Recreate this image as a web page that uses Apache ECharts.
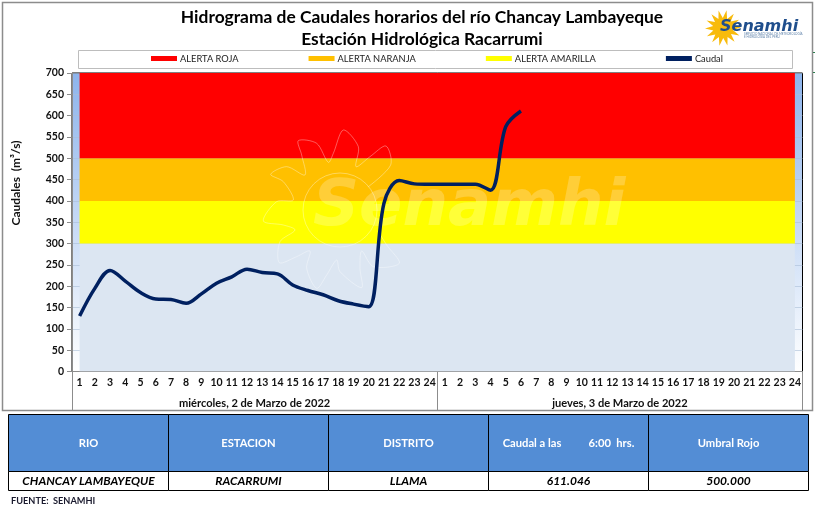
<!DOCTYPE html>
<html>
<head>
<meta charset="utf-8">
<title>Hidrograma</title>
<script src="https://cdn.jsdelivr.net/npm/echarts@6/dist/echarts.min.js"></script>
<style>
html,body{margin:0;padding:0;background:#fff}
#chart{width:815px;height:508px}
</style>
</head>
<body>
<div id="chart"></div>
<script>
// horas de cada dia
var hours = ['1','2','3','4','5','6','7','8','9','10','11','12','13','14','15','16','17','18','19','20','21','22','23','24'];
var categories = hours.concat(hours);
var days = ['miércoles, 2 de Marzo de 2022', 'jueves, 3 de Marzo de 2022'];

// caudal horario, termina a las 6:00 del segundo dia
var caudal = [130,195,237,212,185,170,169,160,182,207,222,240,232,229,203,190,180,166,158,152,395,448,440,439,
              439,439,439,425,574,611];

// bandas apiladas (base, amarilla, naranja, roja)
var bandaBase = [300,300,300,300,300,300,300,300,300,300,300,300,300,300,300,300,300,300,300,300,300,300,300,300,300,300,300,300,300,300,300,300,300,300,300,300,300,300,300,300,300,300,300,300,300,300,300,300];
var bandaAmarilla = bandaBase.map(function(){ return 100; });
var bandaNaranja = bandaBase.map(function(){ return 100; });
var bandaRoja = bandaBase.map(function(){ return 200; });

var yTicks = {min: 0, max: 700, interval: 50};

var tableHead = ['RIO', 'ESTACION', 'DISTRITO', 'Caudal a las          6:00  hrs.', 'Umbral Rojo'];
var tableRow = ['CHANCAY LAMBAYEQUE', 'RACARRUMI', 'LLAMA', '611.046', '500.000'];
var tableX = [8.5, 168.5, 328.5, 488.5, 648.5, 808.5];

var FONT = 'Lato, "Open Sans", sans-serif';
var LOGO_FONT = '"DejaVu Sans", sans-serif';

function bandSeries(name, data, color){
    return {
        name: name,
        type: 'line',
        stack: 'umbral',
        data: data,
        symbol: 'none',
        lineStyle: {width: 0},
        itemStyle: {color: color},
        areaStyle: {color: color, opacity: 1},
        z: 2,
        silent: true
    };
}

// sol del logo, una estrella de puntas
function sunPoints(cx, cy, r1, r2, n){
    var pts = [];
    for(var i = 0; i < n * 2; i++){
        var r = i % 2 ? r2 : r1;
        var a = i * Math.PI / n - Math.PI / 2 + 0.2;
        pts.push([cx + r * Math.cos(a), cy + r * Math.sin(a)]);
    }
    return pts;
}

// contorno de las llamas de la marca de agua
var flameLeft = [[325,185],[392,120],[378,63],[330,95],[288,125],[295,65],[250,15],[220,85],[205,112],[170,55],[115,47],[125,90],[135,150],
    [80,125],[32,148],[70,170],[100,225],[50,230],[10,288],[70,300],[105,315],[60,350],[58,413],[110,395],[150,378],[140,430],[170,490],[200,450],[230,405],[240,440],[305,488],[300,430],[305,378],[340,425],[418,415],[380,360],[355,320]];
var flamePts = flameLeft.map(function(p){ return [260 + p[0] / 3, 125 + p[1] / 3]; });

var watermarkStroke = 'rgba(255,255,255,0.35)';

var graphics = [
    // marco exterior
    {type: 'rect', silent: true, z: 0, shape: {x: 2.5, y: 2.5, width: 810, height: 408}, style: {fill: null, stroke: '#8c8c8c', lineWidth: 1.5}},
    {type: 'line', silent: true, z: 0, shape: {x1: 813, y1: 52.5, x2: 815, y2: 52.5}, style: {stroke: '#2e7d4f', lineWidth: 1}},
    {type: 'line', silent: true, z: 0, shape: {x1: 813, y1: 72.5, x2: 815, y2: 72.5}, style: {stroke: '#2e7d4f', lineWidth: 1}},
    // caja de la leyenda
    {type: 'rect', silent: true, z: 0, shape: {x: 78.5, y: 50.5, width: 714, height: 18}, style: {fill: '#fff', stroke: '#bdbdbd', lineWidth: 1}},
    // marca de agua
    {type: 'circle', silent: true, z: 5, shape: {cx: 340, cy: 210, r: 37}, style: {fill: null, stroke: watermarkStroke, lineWidth: 1}},
    {type: 'polyline', silent: true, z: 5, shape: {points: flamePts, smooth: 0.3}, style: {fill: null, stroke: watermarkStroke, lineWidth: 1}},
    {type: 'text', silent: true, z: 5, x: 313, y: 208, style: {text: 'Senamhi', verticalAlign: 'middle', fontFamily: LOGO_FONT, fontWeight: 'bold', fontStyle: 'italic', fontSize: 64, fill: 'rgba(255,255,255,0.22)'}},
    // logo
    {type: 'polygon', silent: true, z: 5, shape: {points: sunPoints(723, 28, 18, 10, 14)}, style: {fill: '#f8bb0c'}},
    {type: 'text', silent: true, z: 6, x: 720, y: 26.5, style: {text: 'Senamhi', verticalAlign: 'middle', fontFamily: LOGO_FONT, fontWeight: 'bold', fontStyle: 'italic', fontSize: 16, fill: '#1f4e8c'}},
    {type: 'text', silent: true, z: 6, x: 744, y: 33, style: {text: 'SERVICIO NACIONAL DE METEOROLOGÍA\nE HIDROLOGÍA DEL PERÚ', fontFamily: FONT, fontSize: 3, lineHeight: 3, fill: '#5b7fa8'}},
    // titulo del eje y
    {type: 'text', silent: true, x: 16, y: 183, rotation: Math.PI / 2, style: {text: 'Caudales  (m³/s)', align: 'center', verticalAlign: 'middle', fontFamily: FONT, fontWeight: 'bold', fontSize: 12, fill: '#111'}},
    // fuente
    {type: 'text', silent: true, x: 11, y: 497, style: {text: 'FUENTE:  SENAMHI', fontFamily: FONT, fontWeight: 'bold', fontSize: 9.2, fill: '#1a1a2e'}}
];

// tabla inferior
tableHead.forEach(function(h, i){
    var x = tableX[i], w = tableX[i + 1] - x;
    graphics.push({type: 'rect', silent: true, shape: {x: x, y: 414.5, width: w, height: 57}, style: {fill: '#538dd5', stroke: '#000', lineWidth: 1}});
    graphics.push({type: 'text', silent: true, z: 3, x: x + w / 2, y: 443, style: {text: h, align: 'center', verticalAlign: 'middle', fontFamily: FONT, fontWeight: 'bold', fontSize: 11.2, fill: '#fff'}});
    graphics.push({type: 'rect', silent: true, shape: {x: x, y: 471.5, width: w, height: 19}, style: {fill: '#fff', stroke: '#000', lineWidth: 1}});
    graphics.push({type: 'text', silent: true, z: 3, x: x + w / 2, y: 481, style: {text: tableRow[i], align: 'center', verticalAlign: 'middle', fontFamily: FONT, fontWeight: 'bold', fontStyle: 'italic', fontSize: 12, fill: '#000'}});
});

var option = {
    backgroundColor: '#fff',
    animation: false,
    title: {
        text: 'Hidrograma de Caudales horarios del río Chancay Lambayeque\nEstación Hidrológica Racarrumi',
        left: 417,
        top: 1,
        textAlign: 'center',
        textStyle: {fontFamily: FONT, fontWeight: 'bold', fontSize: 17.4, lineHeight: 22, color: '#000'}
    },
    legend: {
        left: 151,
        top: 54,
        padding: 0,
        itemWidth: 26,
        itemHeight: 5,
        itemGap: 70,
        icon: 'rect',
        textStyle: {fontFamily: FONT, fontSize: 9.3, color: '#222', padding: [0, 0, 0, -2]},
        data: ['ALERTA ROJA', 'ALERTA NARANJA', 'ALERTA AMARILLA', 'Caudal']
    },
    grid: {
        left: 72,
        right: 12.5,
        top: 73,
        height: 298.5,
        show: true,
        borderColor: '#000',
        borderWidth: 1,
        backgroundColor: new echarts.graphic.LinearGradient(0, 0, 0, 1, [
            {offset: 0, color: '#8db4ec'},
            {offset: 1, color: '#ffffff'}
        ])
    },
    xAxis: [
        {
            type: 'category',
            data: categories,
            position: 'bottom',
            axisLine: {show: true, onZero: false, lineStyle: {color: '#8c8c8c'}},
            axisTick: {show: false},
            axisLabel: {interval: 0, margin: 6, fontFamily: FONT, fontWeight: 'bold', fontSize: 10.5, color: '#111'}
        },
        {
            type: 'category',
            data: days,
            position: 'bottom',
            axisLine: {show: false},
            axisTick: {show: true, length: 39, lineStyle: {color: '#8c8c8c'}},
            axisLabel: {interval: 0, margin: 26, fontFamily: FONT, fontWeight: 'bold', fontSize: 11.1, color: '#111'}
        }
    ],
    yAxis: {
        type: 'value',
        min: yTicks.min,
        max: yTicks.max,
        interval: yTicks.interval,
        axisLine: {show: true, lineStyle: {color: '#8c8c8c'}},
        axisTick: {show: true, length: 5, lineStyle: {color: '#8c8c8c'}},
        axisLabel: {margin: 8, fontFamily: FONT, fontWeight: 'bold', fontSize: 10.5, color: '#111'},
        splitLine: {show: true, lineStyle: {color: 'rgba(170,190,215,0.6)'}}
    },
    series: [
        bandSeries('Base', bandaBase, '#dce6f2'),
        bandSeries('ALERTA AMARILLA', bandaAmarilla, '#ffff00'),
        bandSeries('ALERTA NARANJA', bandaNaranja, '#ffc000'),
        bandSeries('ALERTA ROJA', bandaRoja, '#ff0000'),
        {
            name: 'Caudal',
            type: 'line',
            data: caudal,
            smooth: 0.35,
            symbol: 'none',
            lineStyle: {color: '#002060', width: 3.5},
            itemStyle: {color: '#002060'},
            z: 8
        }
    ],
    graphic: graphics
};

var myChart = echarts.init(document.getElementById('chart'));
myChart.setOption(option);
</script>
</body>
</html>
